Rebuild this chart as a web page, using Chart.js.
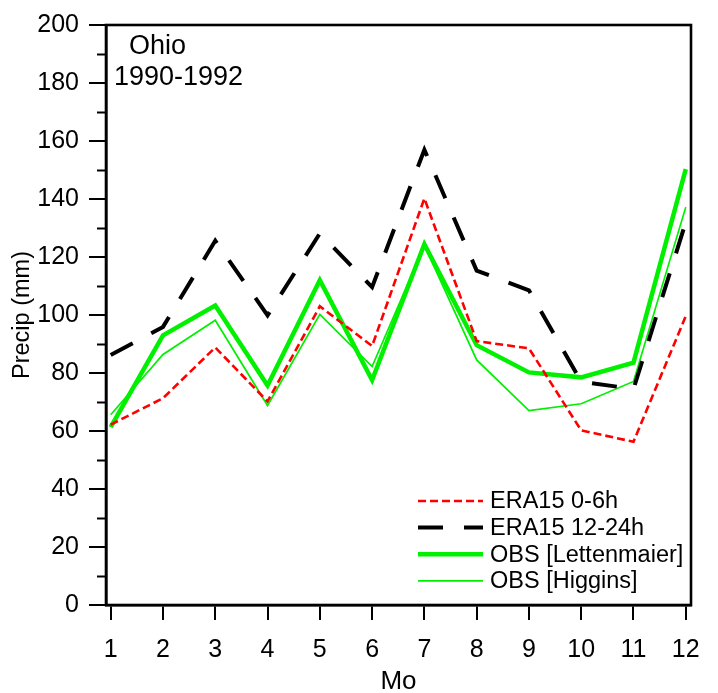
<!DOCTYPE html>
<html>
<head>
<meta charset="utf-8">
<script src="https://cdn.jsdelivr.net/npm/chart.js@4.4.0/dist/chart.umd.min.js"></script>
<style>
  html, body { margin: 0; padding: 0; background: #fff; }
  canvas { display: block; }
</style>
</head>
<body>
<canvas id="c" width="718" height="693"></canvas>
<script>
// monthly precip, Ohio 1990-1992 (mm)
const months = [1, 2, 3, 4, 5, 6, 7, 8, 9, 10, 11, 12];
const era0to6 = [62.2, 71.3, 88.8, 70.2, 103.0, 89.3, 140.2, 91.0, 88.5, 60.2, 56.3, 99.6];
const era12to24 = [86.2, 95.9, 125.6, 99.9, 128.1, 109.6, 157.0, 115.3, 108.5, 77.0, 74.5, 132.0];
const obsLettenmaier = [61.3, 93.0, 103.3, 75.7, 112.0, 77.6, 124.4, 89.6, 80.2, 78.5, 83.6, 150.3];
const obsHiggins = [65.6, 86.4, 98.2, 68.8, 100.2, 82.2, 124.0, 84.5, 67.0, 69.4, 77.1, 137.2];
const yMinorTicks = [10, 30, 50, 70, 90, 110, 130, 150, 170, 190];

const FONT = '"Liberation Sans", Arial, sans-serif';
const GREEN = '#00f000';

const pts = (arr) => arr.map((v, i) => ({ x: months[i], y: v }));

// frame, minor ticks, the Ohio label and the legend box
const extras = {
  id: 'extras',
  afterDraw(chart) {
    const ctx = chart.ctx;
    const a = chart.chartArea;
    const y = chart.scales.y;
    ctx.save();
    ctx.strokeStyle = '#000';
    ctx.lineWidth = 2.6;
    ctx.strokeRect(a.left, a.top, a.right - a.left, a.bottom - a.top);

    ctx.lineWidth = 2;
    yMinorTicks.forEach(v => {
      const py = Math.round(y.getPixelForValue(v)) + 0.5;
      ctx.beginPath();
      ctx.moveTo(a.left - 9, py);
      ctx.lineTo(a.left, py);
      ctx.stroke();
    });

    ctx.fillStyle = '#000';
    ctx.font = '27px ' + FONT;
    ctx.textAlign = 'left';
    ctx.textBaseline = 'middle';
    ctx.fillText('Ohio', 129, 47);
    ctx.fillText('1990-1992', 114, 78);

    // legend
    ctx.font = '23.5px ' + FONT;
    chart.data.datasets.forEach((ds, i) => {
      const ly = 501 + i * 26.6;
      ctx.beginPath();
      ctx.strokeStyle = ds.borderColor;
      ctx.lineWidth = ds.borderWidth;
      ctx.setLineDash(ds.borderDash || []);
      ctx.moveTo(418, ly);
      ctx.lineTo(483, ly);
      ctx.stroke();
      ctx.setLineDash([]);
      ctx.fillText(ds.label, 490, ly + 1);
    });
    ctx.restore();
  }
};

new Chart(document.getElementById('c'), {
  type: 'line',
  data: {
    datasets: [
      { label: 'ERA15 0-6h', data: pts(era0to6), borderColor: '#ff0000', borderWidth: 2.6, borderDash: [8, 4], order: 2 },
      { label: 'ERA15 12-24h', data: pts(era12to24), borderColor: '#000000', borderWidth: 4, borderDash: [25, 21], order: 1 },
      { label: 'OBS [Lettenmaier]', data: pts(obsLettenmaier), borderColor: GREEN, borderWidth: 4.5, order: 3 },
      { label: 'OBS [Higgins]', data: pts(obsHiggins), borderColor: GREEN, borderWidth: 1.7, order: 4 }
    ]
  },
  options: {
    responsive: false,
    animation: false,
    layout: { padding: { top: 22, right: 27, left: 0, bottom: 0 } },
    elements: {
      point: { radius: 0 },
      line: { tension: 0, fill: false, borderCapStyle: 'butt' }
    },
    plugins: {
      legend: { display: false },
      tooltip: { enabled: false }
    },
    scales: {
      x: {
        type: 'linear',
        min: 0.91,
        max: 12.1,
        afterBuildTicks: (s) => { s.ticks = months.map(m => ({ value: m })); },
        afterFit: (s) => { s.height = 88; },
        grid: { drawOnChartArea: false, drawTicks: true, tickLength: 15, color: '#000', lineWidth: 2 },
        border: { display: true, color: '#000', width: 2.6 },
        ticks: { color: '#000', font: { family: FONT, size: 25 }, padding: 15, maxRotation: 0, autoSkip: false },
        title: { display: true, text: 'Mo', color: '#000', font: { family: FONT, size: 26 }, padding: { top: 0, bottom: -4 } }
      },
      y: {
        min: 0,
        max: 200,
        afterFit: (s) => { s.width = 106; },
        grid: { drawOnChartArea: false, drawTicks: true, tickLength: 17, color: '#000', lineWidth: 2 },
        border: { display: true, color: '#000', width: 2.6 },
        ticks: { stepSize: 20, color: '#000', font: { family: FONT, size: 25 }, padding: 10 },
        title: { display: true, text: 'Precip (mm)', color: '#000', font: { family: FONT, size: 23.5 }, padding: { top: 8, bottom: 0 } }
      }
    }
  },
  plugins: [extras]
});
</script>
</body>
</html>
